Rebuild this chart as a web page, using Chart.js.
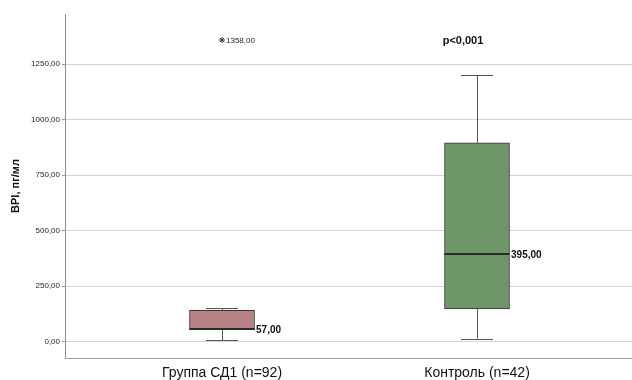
<!DOCTYPE html>
<html>
<head>
<meta charset="utf-8">
<script src="https://cdn.jsdelivr.net/npm/chart.js@4/dist/chart.umd.min.js"></script>
<style>
  html, body { margin: 0; padding: 0; background: #fff; }
  #wrap { width: 632px; height: 380px; position: relative; }
</style>
</head>
<body>
<div id="wrap"><canvas id="c" width="632" height="380"></canvas></div>
<script>
// Groups and box-plot statistics (BPI, pg/ml)
const categories = ['Группа СД1 (n=92)', 'Контроль (n=42)'];
const whiskerLow = [8, 14];
const q1 = [55, 148];
const median = [57, 395];
const q3 = [141, 895];
const whiskerHigh = [150, 1200];
const medianLabels = ['57,00', '395,00'];
const outliers = [{ group: 0, value: 1358, label: '1358,00' }];
const yTicks = [0, 250, 500, 750, 1000, 1250];
const boxColors = ['#b78283', '#6f9669'];
const pValueText = 'p<0,001';

const FONT = '"Liberation Sans", Arial, sans-serif';

function fmt(v) {
  return v.toFixed(2).replace('.', ',');
}

// Whiskers, medians and annotations drawn on top of the boxes
const boxExtras = {
  id: 'boxExtras',
  afterDatasetsDraw(chart) {
    const { ctx, scales: { x, y } } = chart;
    ctx.save();
    categories.forEach((_, i) => {
      const cx = x.getPixelForValue(i);
      const half = 32.5;
      const capHalf = 16;
      const yQ1 = y.getPixelForValue(q1[i]);
      const yQ3 = y.getPixelForValue(q3[i]);
      const yLo = y.getPixelForValue(whiskerLow[i]);
      const yHi = y.getPixelForValue(whiskerHigh[i]);
      const yMed = y.getPixelForValue(median[i]);
      ctx.strokeStyle = '#555';
      ctx.lineWidth = 1;
      ctx.beginPath();
      ctx.moveTo(Math.round(cx) + 0.5, yQ3); ctx.lineTo(Math.round(cx) + 0.5, yHi);
      ctx.moveTo(Math.round(cx) + 0.5, yQ1); ctx.lineTo(Math.round(cx) + 0.5, yLo);
      ctx.moveTo(cx - capHalf, Math.round(yHi) + 0.5); ctx.lineTo(cx + capHalf, Math.round(yHi) + 0.5);
      ctx.moveTo(cx - capHalf, Math.round(yLo) + 0.5); ctx.lineTo(cx + capHalf, Math.round(yLo) + 0.5);
      ctx.stroke();
      // median
      ctx.strokeStyle = '#2a2a2a';
      ctx.lineWidth = 2;
      ctx.beginPath();
      ctx.moveTo(cx - half, yMed); ctx.lineTo(cx + half, yMed);
      ctx.stroke();
      ctx.fillStyle = '#111';
      ctx.font = 'bold 10px ' + FONT;
      ctx.textAlign = 'left';
      ctx.textBaseline = 'middle';
      ctx.fillText(medianLabels[i], cx + half + 1.5, yMed + 1);
    });
    outliers.forEach(o => {
      const px = x.getPixelForValue(o.group);
      const py = y.getPixelForValue(o.value);
      ctx.fillStyle = '#222';
      ctx.font = '8px ' + FONT;
      ctx.textAlign = 'left';
      ctx.textBaseline = 'middle';
      ctx.fillText(o.label, px + 4, py + 0.5);
    });
    ctx.fillStyle = '#111';
    ctx.font = 'bold 11px ' + FONT;
    ctx.textAlign = 'center';
    ctx.textBaseline = 'middle';
    ctx.fillText(pValueText, x.getPixelForValue(1) - 14, y.getPixelForValue(1358) + 0.5);
    ctx.restore();
  }
};

new Chart(document.getElementById('c'), {
  type: 'bar',
  data: {
    datasets: [
      {
        type: 'bar',
        label: 'box',
        data: categories.map((_, i) => ({ x: i, y: [q1[i], q3[i]] })),
        backgroundColor: boxColors,
        borderColor: '#333',
        borderWidth: 1,
        borderSkipped: false,
        barThickness: 65
      },
      {
        type: 'scatter',
        label: 'outliers',
        data: outliers.map(o => ({ x: o.group, y: o.value })),
        pointStyle: 'star',
        pointRadius: 3,
        pointBorderColor: '#333',
        pointBackgroundColor: '#333',
        pointBorderWidth: 1
      }
    ]
  },
  plugins: [boxExtras],
  options: {
    responsive: false,
    animation: false,
    layout: { autoPadding: false, padding: { top: 14, right: 0, left: 0, bottom: 0 } },
    plugins: { legend: { display: false }, tooltip: { enabled: false } },
    scales: {
      x: {
        type: 'linear',
        min: -0.6157,
        max: 1.6078,
        offset: false,
        grid: { display: false, drawTicks: false },
        border: { display: true, color: '#9a9a9a', width: 1 },
        afterBuildTicks(scale) { scale.ticks = categories.map((_, i) => ({ value: i })); },
        afterFit(scale) {
          scale.height = 22;
          scale.paddingLeft = 0;
          scale.paddingRight = 0;
        },
        ticks: {
          autoSkip: false,
          maxRotation: 0,
          padding: 7,
          color: '#111',
          font: { family: FONT, size: 14 },
          callback: v => categories[v] ?? ''
        }
      },
      y: {
        min: -73,
        max: 1475,
        afterBuildTicks(scale) { scale.ticks = yTicks.map(v => ({ value: v })); },
        afterFit(scale) { scale.width = 65; },
        grid: { color: '#d4d4d4', lineWidth: 1, tickLength: 3, tickColor: '#999' },
        border: { display: true, color: '#8a8a8a', width: 1 },
        ticks: {
          padding: 2,
          color: '#222',
          font: { family: FONT, size: 8 },
          callback: v => fmt(v)
        },
        title: {
          display: true,
          text: 'BPI, пг/мл',
          color: '#111',
          font: { family: FONT, size: 11, weight: 'bold' },
          padding: { top: 9, bottom: 0 }
        }
      }
    }
  }
});
</script>
</body>
</html>
